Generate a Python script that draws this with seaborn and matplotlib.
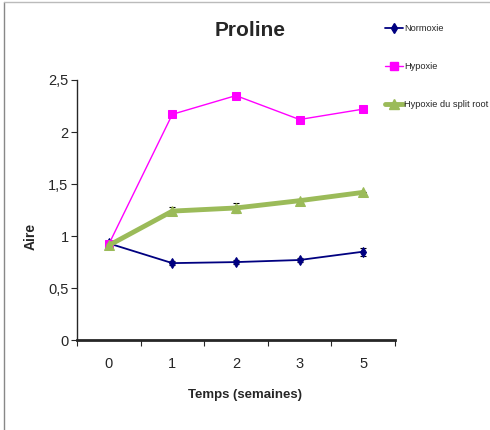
import matplotlib.pyplot as plt
import matplotlib.lines as mlines
import seaborn as sns
import numpy as np
import pandas as pd

# Valeurs
semaines = ['0', '1', '2', '3', '5']
normoxie = [0.93, 0.74, 0.75, 0.77, 0.85]
hypoxie = [0.92, 2.17, 2.35, 2.12, 2.22]
split_root = [0.91, 1.24, 1.27, 1.34, 1.42]
err_normoxie = [0.0, 0.02, 0.02, 0.02, 0.04]
err_hypoxie = [0.0, 0.0, 0.0, 0.0, 0.0]
err_split = [0.0, 0.04, 0.05, 0.02, 0.0]

series = ['Normoxie', 'Hypoxie', 'Hypoxie du split root']
couleurs = ['#000080', '#FF00FF', '#9BBB59']

x = np.arange(len(semaines))
df = pd.DataFrame({
    'x': np.tile(x, 3),
    'Aire': normoxie + hypoxie + split_root,
    'serie': np.repeat(series, len(semaines)),
})

sns.set_style('ticks')
plt.rcParams['font.family'] = ['Liberation Sans', 'DejaVu Sans']

fig = plt.figure(figsize=(4.9, 4.3), dpi=100)
ax = fig.add_axes([0.157, 0.209, 0.649, 0.605])

styles = {
    'Normoxie': dict(marker='d', lw=1.3, ms=5.5),
    'Hypoxie': dict(marker='s', lw=1.0, ms=6),
    'Hypoxie du split root': dict(marker='^', lw=3.5, ms=6.5),
}
for s, c in zip(series, couleurs):
    d = df[df['serie'] == s]
    sns.lineplot(data=d, x='x', y='Aire', color=c, ax=ax, legend=False,
                 markeredgecolor=c, **styles[s])

for vals, errs in [(normoxie, err_normoxie), (hypoxie, err_hypoxie), (split_root, err_split)]:
    ax.errorbar(x, vals, yerr=errs, fmt='none', ecolor='black', elinewidth=0.8,
                capsize=2, capthick=0.8, zorder=1)

ax.set_xlim(-0.5, 4.5)
ax.set_ylim(0, 2.5)
ax.set_xticks(x)
ax.set_xticklabels(semaines)
ax.set_xticks(np.arange(-0.5, 5, 1), minor=True)
ax.tick_params(axis='x', which='major', length=0, pad=12, labelsize=10.5)
ax.tick_params(axis='x', which='minor', length=4, width=0.8)
ax.set_yticks(np.arange(0, 2.6, 0.5))
ax.set_yticklabels(['0', '0,5', '1', '1,5', '2', '2,5'])
ax.tick_params(axis='y', length=4, width=0.8, labelsize=10.5, pad=2)

ax.spines['top'].set_visible(False)
ax.spines['right'].set_visible(False)
ax.spines['bottom'].set_linewidth(2)
ax.spines['left'].set_linewidth(1)

ax.set_xlabel('')
ax.set_ylabel('')
fig.text(0.50, 0.081, 'Temps (semaines)', ha='center', va='center',
         fontsize=9.5, fontweight='bold')
fig.text(0.063, 0.45, 'Aire', ha='center', va='center', rotation=90,
         fontsize=10, fontweight='bold')
fig.text(0.51, 0.93, 'Proline', ha='center', va='center',
         fontsize=15, fontweight='bold')

handles = [mlines.Line2D([], [], color=c, markeredgecolor=c, **styles[s])
           for s, c in zip(series, couleurs)]
fig.legend(handles, series, loc='upper left', bbox_to_anchor=(0.778, 0.952),
           frameon=False, fontsize=6.7, handlelength=1.9, handletextpad=0.2,
           labelspacing=3.1, borderaxespad=0)

# cadre gris (gauche et haut)
fig.add_artist(mlines.Line2D([0.009, 0.009], [0, 0.995], color='#888888', lw=1))
fig.add_artist(mlines.Line2D([0.009, 1], [0.995, 0.995], color='#bbbbbb', lw=1))

fig.savefig('out.png', dpi=100)
